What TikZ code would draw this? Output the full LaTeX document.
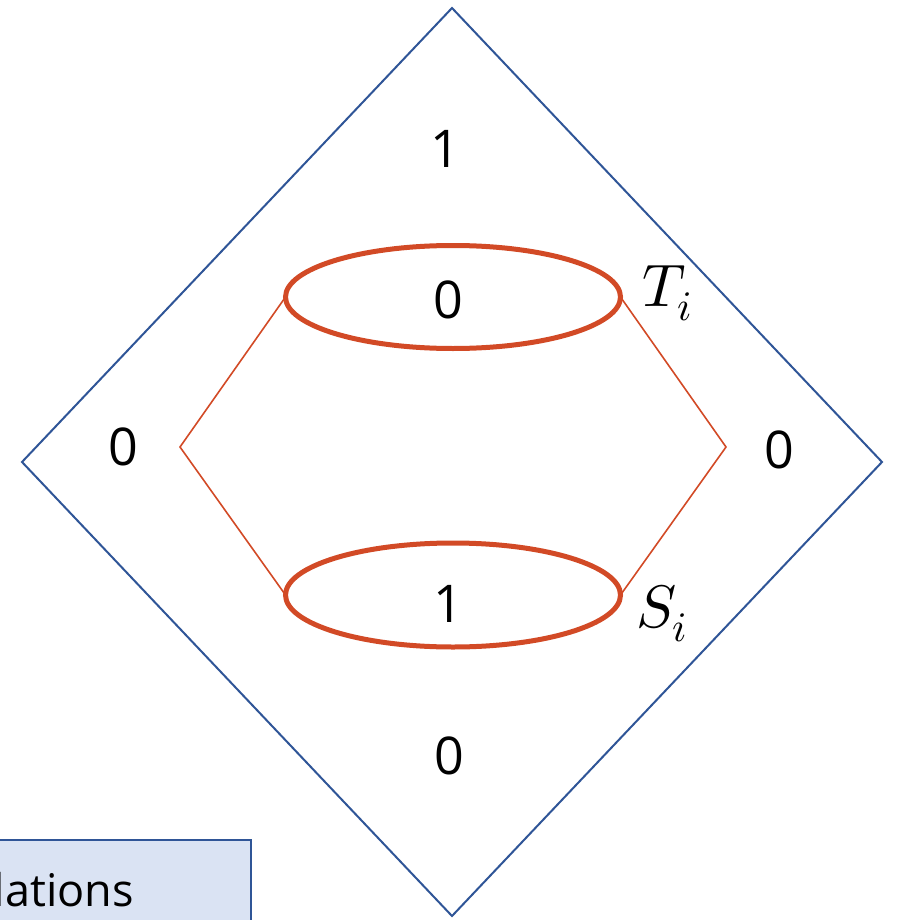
\documentclass[tikz,border=0pt]{standalone}
\usepackage{fontspec}
\usepackage{unicode-math}
\setmainfont{Open Sans}
\setmathfont{Latin Modern Math}
\definecolor{dblue}{HTML}{2F5597}
\definecolor{orng}{HTML}{D24A26}
\definecolor{lblue}{HTML}{DAE3F3}
\tikzset{
  digit/.style={inner sep=0pt, font=\fontsize{52}{52}\selectfont},
  mlabel/.style={inner sep=0pt, font=\fontsize{60}{60}\selectfont},
  ring/.style={draw=orng, line width=5pt},
  thin/.style={draw=orng, line width=1.6pt},
  border/.style={draw=dblue, line width=2pt},
}
\begin{document}
\begin{tikzpicture}[x=1pt,y=-1pt]
\useasboundingbox (0,0) rectangle (897,920);
\clip (0,0) rectangle (897,920);
% diamond
\coordinate (dt) at (452,8);
\coordinate (dl) at (22,462);
\coordinate (dr) at (882,462);
\coordinate (db) at (452,916);
\draw[border, line join=miter] (dt) -- (dr) -- (db) -- (dl) -- cycle;
% box
\node[draw=dblue, line width=2pt, fill=lblue, minimum width=300pt, minimum height=120pt, anchor=north east, inner sep=0pt] (box) at (252,839) {};
\node[anchor=base east, inner sep=0pt, font=\fontsize{45}{45}\selectfont] (lab) at (134,906) {lations};
% hexagon thin lines
\coordinate (hl) at (180,447);
\coordinate (hr) at (726,447);
\coordinate (tl) at (285.5,297);
\coordinate (tr) at (620.5,297);
\coordinate (bl) at (285.5,595);
\coordinate (br) at (620.5,595);
\draw[thin] (tl) -- (hl) -- (bl);
\draw[thin] (tr) -- (hr) -- (br);
% ellipses
\draw[ring] (453,297) ellipse [x radius=167.5, y radius=51.5];
\draw[ring] (453,595) ellipse [x radius=167.5, y radius=52];
% labels
\node[digit] (n1) at (445,149) {1};
\node[digit] (n2) at (448,300) {0};
\node[digit] (n3) at (123,447) {0};
\node[digit] (n4) at (779,450) {0};
\node[digit] (n5) at (448,604) {1};
\node[digit] (n6) at (449,756) {0};
\node[mlabel, anchor=base west] (T) at (642,306) {$T_i$};
\node[mlabel, anchor=base west] (S) at (636,627) {$S_i$};
\end{tikzpicture}
\end{document}
